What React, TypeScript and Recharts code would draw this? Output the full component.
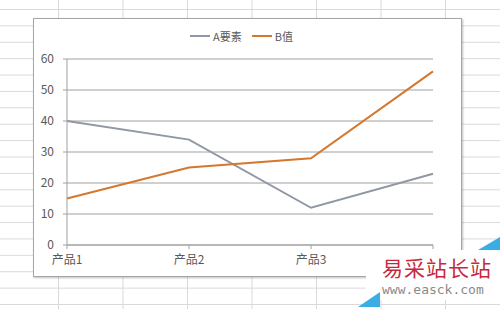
import { LineChart, Line, XAxis, YAxis, CartesianGrid } from 'recharts';

const categories = ['产品1', '产品2', '产品3', '产品4'];
const seriesA = [40, 34, 12, 23];
const seriesB = [15, 25, 28, 56];
const yTicks = [0, 10, 20, 30, 40, 50, 60];

const SERIES = [
  { key: 'A要素', values: seriesA, color: '#9098a5' },
  { key: 'B值', values: seriesB, color: '#d5772c' },
];

const chartData = categories.map((name, i) => {
  const row: Record<string, string | number> = { name };
  SERIES.forEach((s) => { row[s.key] = s.values[i]; });
  return row;
});

const FONT = '"Noto Sans CJK SC", "Microsoft YaHei", sans-serif';
const axisColor = '#a0a0a0';
const textColor = '#595959';

export default function App() {
  return (
    <div
      style={{
        position: 'fixed', left: 0, top: 0, width: 500, height: 309, overflow: 'hidden',
        background: '#fff',
        backgroundImage:
          'linear-gradient(to right, #d9d9d9 1px, transparent 1px), linear-gradient(to bottom, #d9d9d9 1px, transparent 1px)',
        backgroundSize: '64.5px 16.4px',
        backgroundPosition: '58px 9px',
        fontFamily: FONT,
      }}
    >
      {/* chart box */}
      <div
        style={{
          position: 'absolute', left: 33, top: 18, width: 427, height: 257,
          background: '#fff', border: '1px solid #a6a6a6',
          boxShadow: '1px 1px 2px rgba(0,0,0,0.25)',
        }}
      >
        <div
          style={{
            position: 'absolute', left: -6, top: 9, width: 427, display: 'flex',
            justifyContent: 'center', gap: 10, fontSize: 11, color: textColor, zIndex: 2,
          }}
        >
          {SERIES.map((s) => (
            <span key={s.key} style={{ display: 'flex', alignItems: 'center', gap: 3 }}>
              <span style={{ display: 'inline-block', width: 20, height: 2, background: s.color }} />
              {s.key}
            </span>
          ))}
        </div>
        <LineChart
          width={427}
          height={257}
          data={chartData}
          margin={{ top: 40, right: 28, left: 0, bottom: 0 }}
          style={{ fontFamily: FONT }}
        >
          <CartesianGrid vertical={false} stroke={axisColor} strokeWidth={1} />
          <XAxis
            dataKey="name"
            axisLine={{ stroke: axisColor }}
            tickLine={{ stroke: axisColor }}
            tickSize={4}
            tickMargin={6}
            height={31}
            interval={0}
            tick={{ fill: textColor, fontSize: 12 }}
          />
          <YAxis
            width={33}
            domain={[0, 60]}
            ticks={yTicks}
            axisLine={{ stroke: axisColor }}
            tickLine={{ stroke: axisColor }}
            tickSize={4}
            tickMargin={9}
            tick={{ fill: textColor, fontSize: 12 }}
          />
          {SERIES.map((s) => (
            <Line
              key={s.key}
              dataKey={s.key}
              stroke={s.color}
              strokeWidth={2}
              dot={false}
              type="linear"
              isAnimationActive={false}
            />
          ))}
        </LineChart>
      </div>

      {/* watermark */}
      <div style={{ position: 'absolute', left: 366, top: 250, width: 134, height: 50, background: '#fff' }}>
        <div
          style={{
            position: 'absolute', left: 16, top: 5, fontSize: 21, lineHeight: '24px',
            color: '#c8283c', letterSpacing: 1, whiteSpace: 'nowrap',
            fontFamily: '"Noto Sans CJK SC", serif',
          }}
        >
          易采站长站
        </div>
        <div
          style={{
            position: 'absolute', left: 16, top: 32, fontSize: 13, lineHeight: '15px',
            color: '#8a8a8a', whiteSpace: 'nowrap', fontFamily: '"DejaVu Sans Mono", monospace',
          }}
        >
          www.easck.com
        </div>
      </div>
      <div
        style={{
          position: 'absolute', left: 358, top: 292, width: 0, height: 0,
          borderLeft: '22px solid transparent', borderBottom: '15px solid #3aaee3',
        }}
      />
      <div
        style={{
          position: 'absolute', left: 478, top: 237, width: 0, height: 0,
          borderLeft: '22px solid transparent', borderBottom: '13px solid #3aaee3',
        }}
      />
    </div>
  );
}
